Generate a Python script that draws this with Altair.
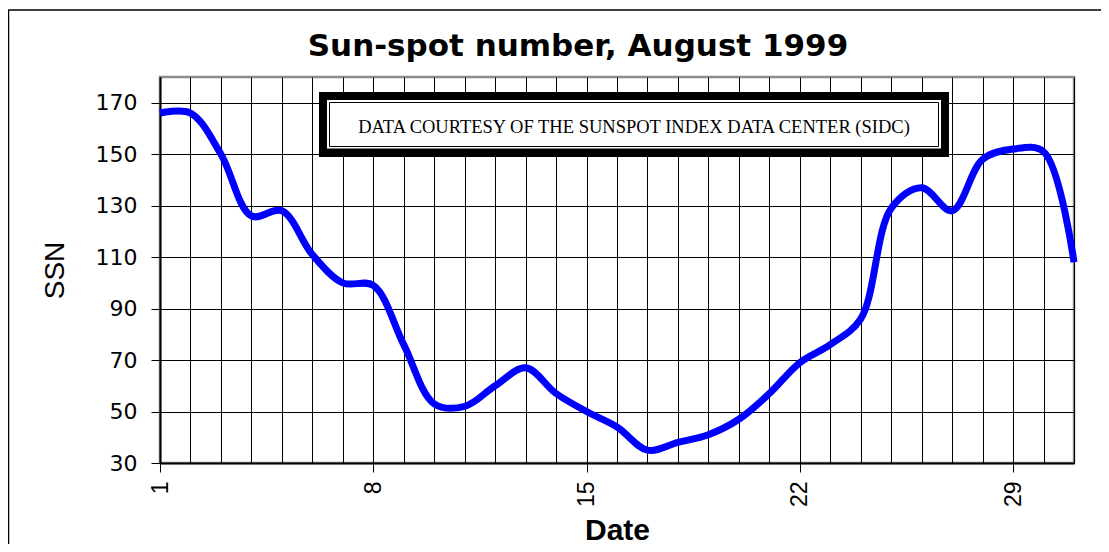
import altair as alt
import pandas as pd

# ---- data ----
days = list(range(1, 32))
ssn = [166, 166, 150, 126, 128, 111, 100, 99, 76, 53, 52, 60, 67, 57, 50, 44,
       35, 38, 41, 47, 57, 69, 76, 86, 129, 137, 128, 148, 152, 151, 108]
y_ticks = [30, 50, 70, 90, 110, 130, 150, 170]
x_label_days = [1, 8, 15, 22, 29]
chart_title = "Sun-spot number, August 1999"
credit = "DATA COURTESY OF THE SUNSPOT INDEX DATA CENTER (SIDC)"
x_title = "Date"
y_title = "SSN"

df = pd.DataFrame({"day": days, "ssn": ssn})

W, H = 914, 386
label_test = " || ".join(f"datum.value == {d}" for d in x_label_days)

x_axis = alt.Axis(
    values=days,
    grid=True, gridColor="#000000", gridWidth=1,
    tickSize=9, tickColor="#000000", tickWidth=1,
    tickOpacity={"condition": {"test": label_test, "value": 1}, "value": 0},
    labelExpr=f"({label_test}) ? datum.label : ''",
    labelAngle=270, labelFont="Liberation Sans", labelFontSize=23,
    labelColor="#000000", labelPadding=9, labelOverlap=False,
    domainColor="#000000", domainWidth=2,
    title=x_title, titleFont="Liberation Sans", titleFontSize=30,
    titleFontWeight="bold", titleColor="#000000",
    titleX=W / 2, titleY=76, titleAlign="center", titleBaseline="alphabetic",
)

y_axis = alt.Axis(
    values=y_ticks,
    grid=True, gridColor="#000000", gridWidth=1,
    tickSize=9, tickColor="#000000", tickWidth=1,
    labelFont="DejaVu Sans", labelFontSize=22, labelColor="#000000",
    labelPadding=14,
    domainColor="#000000", domainWidth=2,
    title=y_title, titleFont="Liberation Sans", titleFontSize=28,
    titleFontWeight="normal", titleColor="#000000",
    titleAngle=270, titleX=-97, titleY=193, titleAlign="center",
    titleBaseline="alphabetic",
)

line = alt.Chart(df).mark_line(
    color="#0000FF", strokeWidth=7, interpolate="catmull-rom", strokeCap="butt"
).encode(
    x=alt.X("day:Q", scale=alt.Scale(domain=[1, 31], nice=False, zero=False), axis=x_axis),
    y=alt.Y("ssn:Q", scale=alt.Scale(domain=[30, 180], nice=False, zero=False), axis=y_axis),
)

one = alt.Data(values=[{"k": 0}])


def box(x, x2, y, y2, **kw):
    return alt.Chart(one).mark_rect(**kw).encode(
        x=alt.value(x), x2=alt.value(x2), y=alt.value(y), y2=alt.value(y2)
    )


frame = box(-151.5, W + 200, -67, H + 200, filled=False, stroke="#000000", strokeWidth=1.5)
credit_outer = box(159, 789, 15, 80, fill="#000000")
credit_gap = box(167, 781, 23, 71.5, fill="#ffffff")
credit_inner = box(169.5, 778.5, 25.5, 69.5, fill="#ffffff", stroke="#000000", strokeWidth=1)

credit_text = alt.Chart(one).mark_text(
    font="Liberation Serif", fontSize=18.5, color="#000000", align="center", baseline="alphabetic"
).encode(x=alt.value(474), y=alt.value(56), text=alt.value(credit))

title_text = alt.Chart(one).mark_text(
    font="DejaVu Sans", fontSize=31, fontWeight="bold", color="#000000",
    align="center", baseline="alphabetic"
).encode(x=alt.value(418), y=alt.value(-21), text=alt.value(chart_title))

chart = alt.layer(
    line, frame, credit_outer, credit_gap, credit_inner, credit_text, title_text
).properties(
    width=W, height=H,
    padding={"left": 152, "top": 69, "right": 27, "bottom": 81},
    autosize=alt.AutoSizeParams(type="none"),
    background="#ffffff",
).configure_view(stroke="#8c8c8c", strokeWidth=2.5)

chart.save("out.html", embed_options={"renderer": "svg", "actions": False})
